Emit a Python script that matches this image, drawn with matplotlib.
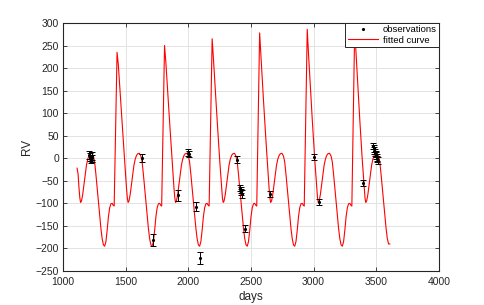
import matplotlib
matplotlib.use("Agg")
import matplotlib.pyplot as plt
from matplotlib.lines import Line2D

# ---- observations ----
obs_days = [1210, 1216, 1222, 1228, 1234, 1627, 1715, 1920, 1995, 2002, 2058, 2090,
            2386, 2414, 2419, 2424, 2428, 2454, 2655, 3004, 3044, 3397,
            3474, 3479, 3484, 3489, 3494, 3499, 3504, 3509, 3514]
obs_rv = [8, 3, -2, 5, 0, 0, -181, -82, 12, 9, -107, -221,
          -3, -66, -71, -75, -80, -156, -80, 3, -97, -55,
          27, 22, 17, 13, 9, 6, 2, -2, -5]
obs_err = [9, 9, 9, 9, 8, 9, 13, 12, 8, 7, 9, 13,
           8, 7, 7, 7, 9, 7, 7, 6, 6, 6,
           7, 7, 7, 7, 7, 7, 7, 7, 7]

curve_days = [
    1112, 1120, 1127, 1134, 1140, 1147, 1157, 1167, 1177, 1187, 1197, 1207, 1217, 1230,
    1242, 1252, 1262, 1272, 1282, 1292, 1302, 1312, 1322, 1332, 1342, 1352, 1362, 1372,
    1382, 1392, 1400, 1408,
    1431, 1441, 1451, 1461, 1471, 1481, 1491, 1499, 1506, 1513, 1519, 1526, 1536, 1546,
    1556, 1566, 1576, 1586, 1596, 1609, 1621, 1631, 1641, 1651, 1661, 1671, 1681, 1691,
    1701, 1711, 1721, 1731, 1741, 1751, 1761, 1771, 1779, 1787,
    1810, 1820, 1830, 1840, 1850, 1860, 1870, 1878, 1885, 1892, 1898, 1905, 1915, 1925,
    1935, 1945, 1955, 1965, 1975, 1988, 2000, 2010, 2020, 2030, 2040, 2050, 2060, 2070,
    2080, 2090, 2100, 2110, 2120, 2130, 2140, 2150, 2158, 2166,
    2190, 2200, 2210, 2220, 2230, 2240, 2250, 2258, 2265, 2272, 2278, 2285, 2295, 2305,
    2315, 2325, 2335, 2345, 2355, 2368, 2380, 2390, 2400, 2410, 2420, 2430, 2440, 2450,
    2460, 2470, 2480, 2490, 2500, 2510, 2520, 2530, 2538, 2546,
    2569, 2579, 2589, 2599, 2609, 2619, 2629, 2637, 2644, 2651, 2657, 2664, 2674, 2684,
    2694, 2704, 2714, 2724, 2734, 2747, 2759, 2769, 2779, 2789, 2799, 2809, 2819, 2829,
    2839, 2849, 2859, 2869, 2879, 2889, 2899, 2909, 2917, 2925,
    2949, 2959, 2969, 2979, 2989, 2999, 3009, 3017, 3024, 3031, 3037, 3044, 3054, 3064,
    3074, 3084, 3094, 3104, 3114, 3127, 3139, 3149, 3159, 3169, 3179, 3189, 3199, 3209,
    3219, 3229, 3239, 3249, 3259, 3269, 3279, 3289, 3297, 3305,
    3328, 3338, 3348, 3358, 3368, 3378, 3388, 3396, 3403, 3410, 3416, 3423, 3433, 3443,
    3453, 3463, 3473, 3483, 3493, 3506, 3518, 3528, 3538, 3548, 3558, 3568, 3578, 3588,
    3598, 3608,
]
curve_rv = [
    -22, -35, -65, -88, -98, -95, -80, -58, -35, -15, -2, 6, 10, 11,
    5, -8, -35, -65, -95, -125, -155, -178, -192, -195, -185, -160, -130, -110,
    -101, -100, -104, -106,
    235, 208, 165, 123, 81, 39, -3, -35, -65, -88, -98, -95, -80, -58,
    -35, -15, -2, 6, 10, 11, 5, -8, -35, -65, -95, -125, -155, -178,
    -192, -195, -185, -160, -130, -110, -101, -100, -104, -106,
    250, 215, 170, 126, 83, 40, -3, -35, -65, -88, -98, -95, -80, -58,
    -35, -15, -2, 6, 10, 11, 5, -8, -35, -65, -95, -125, -155, -178,
    -192, -195, -185, -160, -130, -110, -101, -100, -104, -106,
    265, 222, 175, 129, 84, 40, -3, -35, -65, -88, -98, -95, -80, -58,
    -35, -15, -2, 6, 10, 11, 5, -8, -35, -65, -95, -125, -155, -178,
    -192, -195, -185, -160, -130, -110, -101, -100, -104, -106,
    278, 228, 180, 132, 85, 41, -3, -35, -65, -88, -98, -95, -80, -58,
    -35, -15, -2, 6, 10, 11, 5, -8, -35, -65, -95, -125, -155, -178,
    -192, -195, -185, -160, -130, -110, -101, -100, -104, -106,
    286, 232, 183, 134, 86, 41, -3, -35, -65, -88, -98, -95, -80, -58,
    -35, -15, -2, 6, 10, 11, 5, -8, -35, -65, -95, -125, -155, -178,
    -192, -195, -185, -160, -130, -110, -101, -100, -104, -106,
    292, 235, 185, 135, 87, 41, -3, -35, -65, -88, -98, -95, -80, -58,
    -35, -15, -2, 6, 10, 11, 5, -8, -35, -65, -95, -125, -155, -178,
    -190, -190,
]

x_ticks = [1000, 1500, 2000, 2500, 3000, 3500, 4000]
y_ticks = [-250, -200, -150, -100, -50, 0, 50, 100, 150, 200, 250, 300]

plt.rcParams['font.family'] = ['Liberation Sans', 'DejaVu Sans']
axc = (0.15, 0.15, 0.15)

fig = plt.figure(figsize=(4.85, 3.05), dpi=100)
ax = fig.add_axes([0.130, 0.1115, 0.775, 0.8131])

fit_line, = ax.plot(curve_days, curve_rv, color='#ff0000', lw=0.8, zorder=2)
ax.errorbar(obs_days, obs_rv, yerr=obs_err, fmt='.', color='black', ms=2.5,
            ecolor='black', elinewidth=0.7, capsize=2.2, capthick=0.7, zorder=3)

ax.set_xlim(1000, 4000)
ax.set_ylim(-250, 300)
ax.set_xticks(x_ticks)
ax.set_yticks(y_ticks)
ax.grid(True, color='#e3e3e3', lw=0.7)
ax.set_axisbelow(True)
ax.tick_params(direction='in', length=3, width=0.6, colors=axc, labelsize=7.5,
               top=True, right=True, labeltop=False, labelright=False)
ax.tick_params(axis='x', pad=4.5)
ax.tick_params(axis='y', pad=3)
for s in ax.spines.values():
    s.set_color(axc)
    s.set_linewidth(0.8)
ax.set_xlabel('days', fontsize=8.5, color=axc, labelpad=3)
ax.set_ylabel('RV', fontsize=8.5, color=axc, labelpad=2)

obs_proxy = Line2D([], [], ls='none', marker='.', color='black', ms=2.5)
leg = ax.legend([obs_proxy, fit_line], ['observations', 'fitted curve'], loc='upper right',
                fontsize=6.8, frameon=True, fancybox=False, framealpha=1,
                edgecolor=axc, borderpad=0.25, handlelength=3.2, labelspacing=0.15,
                borderaxespad=0.0, handletextpad=0.5)
leg.get_frame().set_linewidth(0.7)

fig.savefig('out.png', dpi=100)
